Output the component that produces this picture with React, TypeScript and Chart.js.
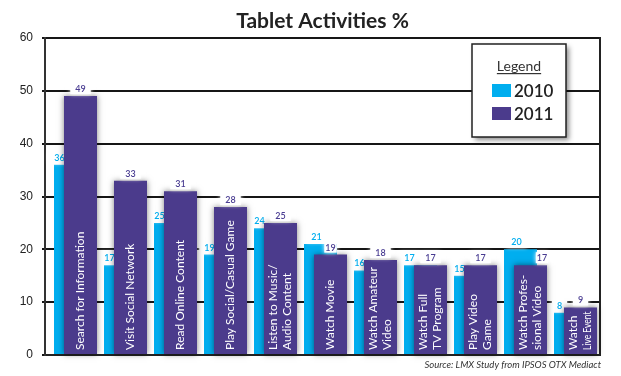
import { useEffect, useRef } from 'react';
import { Chart, registerables } from 'chart.js';

Chart.register(...registerables);

const categories: string[][] = [
  ['Search for Information'],
  ['Visit Social Network'],
  ['Read Online Content'],
  ['Play Social/Casual Game'],
  ['Listen to Music/', 'Audio Content'],
  ['Watch Movie'],
  ['Watch Amateur', 'Video'],
  ['Watch Full', 'TV Program'],
  ['Play Video', 'Game'],
  ['Watch Profes-', 'sional Video'],
  ['Watch', 'Live Event'],
];
const values2010 = [36, 17, 25, 19, 24, 21, 16, 17, 15, 20, 8];
const values2011 = [49, 33, 31, 28, 25, 19, 18, 17, 17, 17, 9];
const yTicks = [0, 10, 20, 30, 40, 50, 60];
const seriesLabels = ['2010', '2011'];
const titleText = 'Tablet Activities %';
const sourceText = 'Source: LMX Study from IPSOS OTX Mediact';
const legendTitle = 'Legend';

const CYAN = '#00aeef';
const PURPLE = '#4b3b8c';
const PURPLE_TEXT = '#4a3d92';

function drawValueLabels(chart: any, idx: number) {
  const ctx = chart.ctx;
  const meta = chart.getDatasetMeta(idx);
  const other = chart.getDatasetMeta(idx === 0 ? 1 : 0);
  const vals = idx === 0 ? values2010 : values2011;
  ctx.save();
  ctx.font = '600 9px Lato';
  ctx.textAlign = 'center';
  ctx.textBaseline = 'alphabetic';
  meta.data.forEach((bar: any, i: number) => {
    const p = bar.getProps(['x', 'y', 'base', 'width'], true);
    const text = String(vals[i]);
    let cx = p.x;
    let pad = 5;
    if (idx === 0) {
      cx = values2010[i] <= values2011[i] ? p.x - p.width / 2 + 5.5 : p.x - 4;
    } else if (values2010[i] - values2011[i] >= 3) {
      // keep the 2011 label clear of the taller 2010 bar
      const o = other.data[i].getProps(['x', 'width'], true);
      cx = (o.x + o.width / 2 + p.x + p.width / 2) / 2;
      pad = 1;
    } else if (values2010[i] > values2011[i]) {
      pad = 1;
    }
    const tw = ctx.measureText(text).width;
    ctx.save();
    ctx.fillStyle = '#fff';
    ctx.shadowColor = '#fff';
    ctx.shadowBlur = 4;
    ctx.fillRect(cx - tw / 2 - pad, p.y - 13, tw + pad * 2, 11);
    ctx.restore();
    ctx.fillStyle = idx === 0 ? CYAN : PURPLE_TEXT;
    ctx.fillText(text, cx, p.y - 4);
  });
  ctx.restore();
}

function drawCategoryLabels(chart: any) {
  const ctx = chart.ctx;
  const meta = chart.getDatasetMeta(1);
  const bottom = chart.chartArea.bottom;
  ctx.save();
  ctx.fillStyle = '#ffffff';
  ctx.font = '12px Lato';
  ctx.textAlign = 'left';
  ctx.textBaseline = 'middle';
  meta.data.forEach((bar: any, i: number) => {
    const p = bar.getProps(['x', 'y', 'base', 'width'], true);
    const lines = categories[i];
    const maxW = bottom - p.y - 9;
    const spacing = 14;
    lines.forEach((line: string, li: number) => {
      const off = (li - (lines.length - 1) / 2) * spacing;
      ctx.save();
      ctx.translate(p.x + off, bottom - 5);
      ctx.rotate(-Math.PI / 2);
      ctx.fillText(line, 0, 0, maxW);
      ctx.restore();
    });
  });
  ctx.restore();
}

const overlayPlugin = {
  id: 'overlay',
  beforeDatasetsDraw(chart: any) {
    const { ctx, chartArea } = chart;
    ctx.save();
    ctx.strokeStyle = '#222';
    ctx.lineWidth = 2;
    ctx.beginPath();
    ctx.moveTo(chartArea.right, chartArea.top - 1);
    ctx.lineTo(chartArea.right, chartArea.bottom + 1);
    ctx.stroke();
    ctx.restore();
  },
  beforeDatasetDraw(chart: any, args: any) {
    // the 2011 series is drawn after (on top of) the 2010 series
    if (args.index === 1) return false;
  },
  afterDatasetDraw(chart: any, args: any) {
    if (args.index !== 0) return;
    const ctx = chart.ctx;
    drawValueLabels(chart, 0);
    ctx.save();
    ctx.shadowColor = 'rgba(0,0,0,0.5)';
    ctx.shadowBlur = 6;
    chart.getDatasetMeta(1).controller.draw();
    ctx.restore();
    drawValueLabels(chart, 1);
    drawCategoryLabels(chart);
  },
  afterDraw(chart: any) {
    const { ctx, chartArea } = chart;
    ctx.save();
    // title
    ctx.fillStyle = '#222';
    ctx.font = 'bold 21px Lato';
    ctx.textAlign = 'center';
    ctx.textBaseline = 'alphabetic';
    ctx.fillText(titleText, (chartArea.left + chartArea.right) / 2, 28);
    // source
    ctx.font = 'italic 9.5px Lato';
    ctx.textAlign = 'right';
    ctx.fillStyle = '#333';
    ctx.fillText(sourceText, chartArea.right + 1, 368);
    // legend box
    const bx = 472, by = 44, bw = 94, bh = 93;
    ctx.save();
    ctx.shadowColor = 'rgba(0,0,0,0.45)';
    ctx.shadowBlur = 5;
    ctx.shadowOffsetX = 3;
    ctx.shadowOffsetY = 3;
    ctx.fillStyle = '#fff';
    ctx.fillRect(bx, by, bw, bh);
    ctx.restore();
    ctx.strokeStyle = '#222';
    ctx.lineWidth = 1.5;
    ctx.strokeRect(bx, by, bw, bh);
    ctx.fillStyle = '#333';
    ctx.font = '14px Lato';
    ctx.textAlign = 'center';
    const lx = bx + bw / 2;
    ctx.fillText(legendTitle, lx, 71);
    const lw = ctx.measureText(legendTitle).width;
    ctx.fillRect(lx - lw / 2, 73, lw, 1.2);
    const colors = [CYAN, PURPLE];
    ctx.textAlign = 'left';
    ctx.font = '600 17px Lato';
    seriesLabels.forEach((lab, i) => {
      const sy = 84 + i * 23;
      ctx.fillStyle = colors[i];
      ctx.fillRect(492, sy, 19, 13);
      ctx.fillStyle = '#222';
      ctx.fillText(lab, 514, sy + 13);
    });
    ctx.restore();
  },
};

export default function App() {
  const ref = useRef<HTMLCanvasElement | null>(null);
  useEffect(() => {
    if (!ref.current) return;
    const chart = new Chart(ref.current, {
      type: 'bar',
      data: {
        datasets: [
          {
            label: seriesLabels[0],
            data: values2010.map((y, i) => ({ x: i, y })),
            backgroundColor: CYAN,
            borderWidth: 0,
            categoryPercentage: 0.4,
            barPercentage: 3.3,
          },
          {
            label: seriesLabels[1],
            data: values2011.map((y, i) => ({ x: i, y })),
            backgroundColor: PURPLE,
            borderWidth: 0,
            categoryPercentage: 0.4,
            barPercentage: 3.3,
          },
        ],
      } as any,
      options: {
        animation: false,
        responsive: false,
        layout: { padding: { left: 0, right: 21, top: 38, bottom: 21 } },
        plugins: {
          legend: { display: false },
          title: { display: false },
          tooltip: { enabled: false },
        },
        scales: {
          x: {
            type: 'linear',
            offset: false,
            min: -0.61,
            max: 10.49,
            afterBuildTicks: (s: any) => {
              s.ticks = categories.map((_, i) => ({ value: i }));
            },
            ticks: { display: false },
            grid: { display: false, drawTicks: false, offset: false },
            border: { display: true, color: '#222', width: 2 },
            afterFit: (s: any) => {
              s.height = 0;
              s.paddingLeft = 0;
              s.paddingRight = 0;
            },
          },
          y: {
            min: 0,
            max: 60,
            afterBuildTicks: (s: any) => {
              s.ticks = yTicks.map((v) => ({ value: v }));
            },
            ticks: {
              font: { family: 'Liberation Sans', size: 12 },
              color: '#222',
              padding: 9,
            },
            grid: { color: '#161616', lineWidth: 2, tickLength: 3 },
            border: { display: true, color: '#333', width: 2 },
            afterFit: (s: any) => {
              s.width = 45;
            },
          },
        },
      } as any,
      plugins: [overlayPlugin as any],
    });
    return () => chart.destroy();
  }, []);
  return (
    <div style={{ position: 'fixed', left: 0, top: 0, width: 621, height: 376, background: '#fff' }}>
      <canvas ref={ref} width={621} height={376} style={{ display: 'block' }} />
    </div>
  );
}
